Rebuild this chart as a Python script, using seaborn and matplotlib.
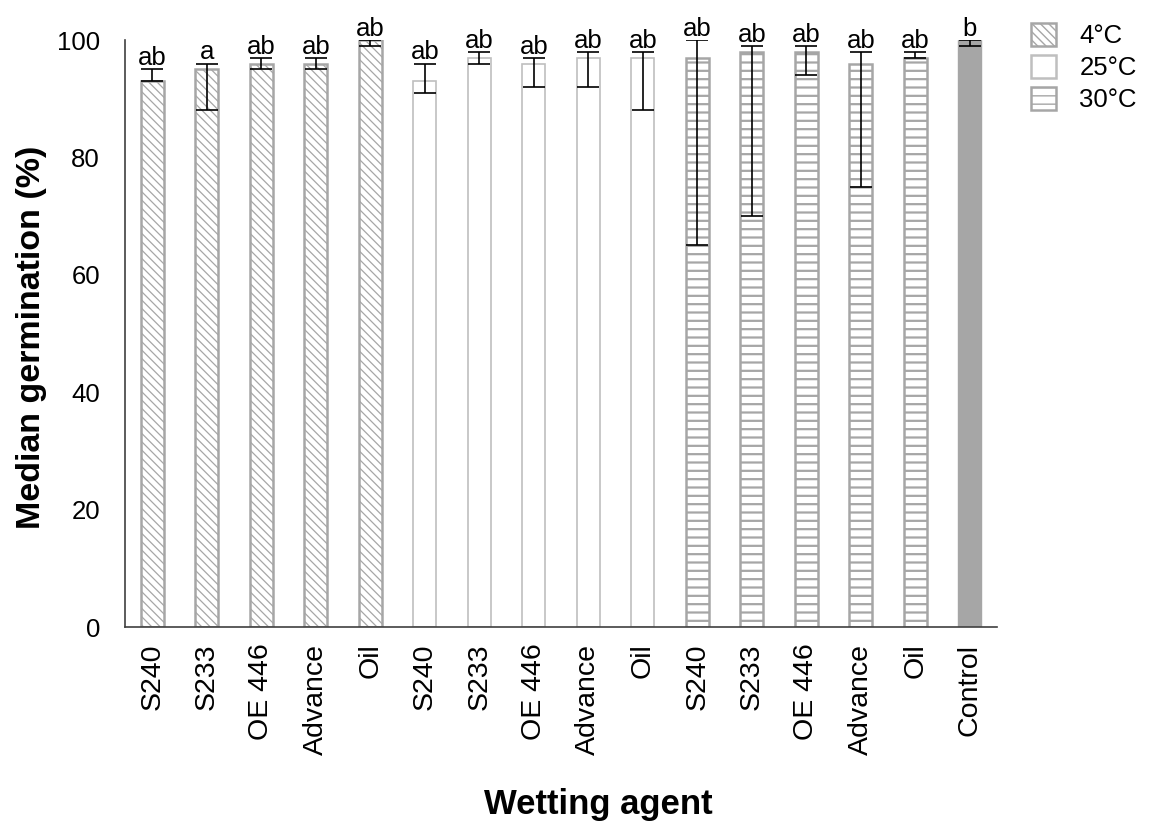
import numpy as np
import pandas as pd
import matplotlib
matplotlib.use("Agg")
import matplotlib.pyplot as plt
from matplotlib.patches import Patch
import seaborn as sns

# Wetting agents and storage temperatures
agents = ["S240", "S233", "OE 446", "Advance", "Oil"]
temps = ["4°C", "25°C", "30°C"]

# Median germination (%) per agent, one list per temperature, plus the untreated control
median_4 = [93, 95, 96, 96, 100]
median_25 = [93, 97, 96, 97, 97]
median_30 = [97, 98, 98, 96, 97]
median_control = 100

# Range of germination (lower / upper whisker)
low_4 = [93, 88, 95, 95, 99]
high_4 = [95, 96, 97, 97, 100]
low_25 = [91, 96, 92, 92, 88]
high_25 = [96, 98, 97, 98, 98]
low_30 = [65, 70, 94, 75, 97]
high_30 = [100, 99, 99, 98, 98]
low_control = 99
high_control = 100

# Significance letters
letters_4 = ["ab", "a", "ab", "ab", "ab"]
letters_25 = ["ab", "ab", "ab", "ab", "ab"]
letters_30 = ["ab", "ab", "ab", "ab", "ab"]
letter_control = "b"

rows = []
for temp, med, lo, hi, let in [
    ("4°C", median_4, low_4, high_4, letters_4),
    ("25°C", median_25, low_25, high_25, letters_25),
    ("30°C", median_30, low_30, high_30, letters_30),
]:
    for a, m, l, h, t in zip(agents, med, lo, hi, let):
        rows.append(dict(slot=f"{a} ({temp})", agent=a, temp=temp,
                         median=m, low=l, high=h, letter=t))
rows.append(dict(slot="Control", agent="Control", temp="Control",
                 median=median_control, low=low_control, high=high_control,
                 letter=letter_control))
df = pd.DataFrame(rows)

sns.set_theme(style="white")
plt.rcParams["font.family"] = ["Liberation Sans", "DejaVu Sans"]
plt.rcParams["text.color"] = "black"
plt.rcParams["xtick.color"] = "black"
plt.rcParams["ytick.color"] = "black"
plt.rcParams["axes.labelcolor"] = "black"
plt.rcParams["hatch.linewidth"] = 1.0

fig = plt.figure(figsize=(11.5, 8.27), dpi=100)
ax = fig.add_axes([0.1087, 0.2418, 0.7583, 0.7098])

edge = "#A6A6A6"
fills = {"4°C": "white", "25°C": "white", "30°C": "white", "Control": "#A6A6A6"}
hatches = {"4°C": "\\\\\\\\", "25°C": "", "30°C": "--", "Control": ""}
edges = {"4°C": edge, "25°C": "#BFBFBF", "30°C": edge, "Control": edge}
lws = {"4°C": 1.8, "25°C": 1.2, "30°C": 1.8, "Control": 1.0}
hatch_lws = {"4°C": 0.9, "25°C": 1.0, "30°C": 1.6, "Control": 1.0}

sns.barplot(data=df, x="slot", y="median", order=list(df["slot"]),
            color="white", width=0.42, errorbar=None, ax=ax)

for patch, temp in zip(ax.patches, df["temp"]):
    patch.set_facecolor(fills[temp])
    patch.set_edgecolor(edges[temp])
    patch.set_hatch(hatches[temp])
    patch.set_linewidth(lws[temp])
    if hasattr(patch, "set_hatch_linewidth"):
        patch.set_hatch_linewidth(hatch_lws[temp])

xs = np.arange(len(df))
ax.errorbar(xs, df["median"],
            yerr=[df["median"] - df["low"], df["high"] - df["median"]],
            fmt="none", ecolor="black", elinewidth=1.2, capsize=8, capthick=1.2,
            zorder=5)

for x, hi, t in zip(xs, df["high"], df["letter"]):
    ax.text(x, hi + 0.7, t, ha="center", va="baseline", fontsize=18.5,
            color="black")

ax.set_ylim(0, 100)
ax.set_xlim(-0.5, len(df) - 0.5)
ax.set_yticks(np.arange(0, 101, 20))
ax.set_xticks(xs)
ax.set_xticklabels(df["agent"], rotation=90, fontsize=20.5)
ax.tick_params(axis="y", labelsize=18.5, length=0, pad=18)
ax.tick_params(axis="x", length=0, pad=12)

for side in ["top", "right"]:
    ax.spines[side].set_visible(False)
for side in ["left", "bottom"]:
    ax.spines[side].set_color("#404040")
    ax.spines[side].set_linewidth(1.2)

ax.set_ylabel("")
ax.set_xlabel("")
fig.text(0.027, 0.592, "Median germination (%)", ha="center", va="center",
         rotation=90, fontsize=24.5, fontweight="bold")
fig.text(0.52, 0.027, "Wetting agent", ha="center", va="center",
         fontsize=25, fontweight="bold")

handles = [Patch(facecolor=fills[t], edgecolor=edges[t], hatch=hatches[t],
                 linewidth=1.8) for t in temps]
fig.legend(handles, temps, loc="upper left",
           bbox_to_anchor=(0.876, 1.0), frameon=False, fontsize=18.5,
           handlelength=1.0, handleheight=1.0, handletextpad=0.9,
           labelspacing=0.25)

fig.savefig("out.png", dpi=100)
